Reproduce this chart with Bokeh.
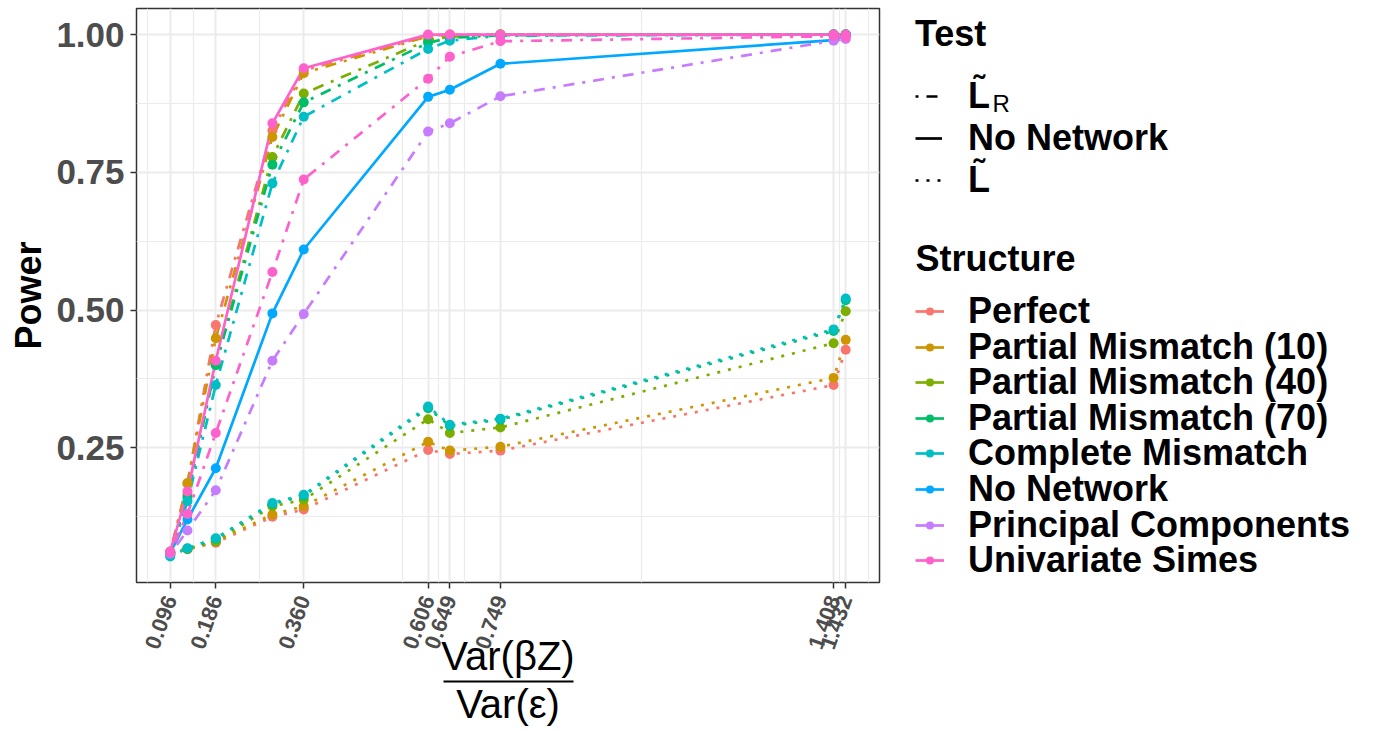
import math
from bokeh.plotting import figure
from bokeh.layouts import row
from bokeh.models import (Range1d, FixedTicker, NumeralTickFormatter, Legend, LegendItem,
                          Label, LinearAxis)
from bokeh.embed import file_html
from bokeh.resources import INLINE

# ---------------- data ----------------
x_values = [0.096, 0.130, 0.186, 0.298, 0.360, 0.606, 0.649, 0.749, 1.408, 1.432]
x_tick_values = [0.096, 0.186, 0.360, 0.606, 0.649, 0.749, 1.408, 1.432]
x_minor_values = [0.051, 0.141, 0.273, 0.5545, 0.6275, 0.6775, 1.0285, 1.420, 1.477]
y_tick_values = [0.25, 0.50, 0.75, 1.00]
y_minor_values = [0.125, 0.375, 0.625, 0.875]

structures = ["Perfect", "Partial Mismatch (10)", "Partial Mismatch (40)",
              "Partial Mismatch (70)", "Complete Mismatch", "No Network",
              "Principal Components", "Univariate Simes"]
structure_colors = ["#F8766D", "#CD9600", "#7CAE00", "#00BE67", "#00BFC4",
                    "#00A9FF", "#C77CFF", "#FF61CC"]
tests = ["L\u0303", "No Network", "L\u0303"]      # L-tilde_R, No Network, L-tilde
test_keys = ["LR", "NN", "L"]
test_dash = {"LR": "3 8 11 8", "NN": "solid", "L": "3 8"}

# Test L~_R (dot-dash)
perfect_LR = [0.060, 0.185, 0.473, 0.826, 0.935, 0.998, 1.000, 1.000, 1.000, 1.000]
pm10_LR = [0.062, 0.186, 0.449, 0.814, 0.930, 0.997, 0.999, 1.000, 1.000, 1.000]
pm40_LR = [0.058, 0.165, 0.405, 0.778, 0.893, 0.990, 0.996, 1.000, 1.000, 1.000]
pm70_LR = [0.058, 0.160, 0.400, 0.764, 0.877, 0.985, 0.994, 0.999, 1.000, 1.000]
complete_LR = [0.055, 0.153, 0.364, 0.730, 0.851, 0.974, 0.989, 0.998, 1.000, 1.000]
pc_LR = [0.058, 0.100, 0.173, 0.408, 0.493, 0.824, 0.839, 0.888, 0.989, 0.992]
simes_LR = [0.060, 0.130, 0.277, 0.569, 0.737, 0.920, 0.960, 0.988, 0.997, 0.995]
# Test No Network (solid)
nonet_NN = [0.060, 0.120, 0.213, 0.494, 0.610, 0.887, 0.900, 0.947, 0.990, 0.999]
simes_NN = [0.062, 0.171, 0.408, 0.839, 0.939, 1.000, 1.000, 1.000, 1.000, 1.000]
# Test L~ (dotted)
perfect_L = [0.058, 0.066, 0.078, 0.125, 0.138, 0.246, 0.239, 0.245, 0.364, 0.428]
pm10_L = [0.060, 0.066, 0.080, 0.129, 0.144, 0.261, 0.245, 0.252, 0.377, 0.446]
pm40_L = [0.060, 0.067, 0.080, 0.144, 0.156, 0.302, 0.277, 0.287, 0.440, 0.498]
pm70_L = [0.055, 0.067, 0.085, 0.148, 0.163, 0.322, 0.290, 0.301, 0.462, 0.518]
complete_L = [0.053, 0.068, 0.086, 0.150, 0.165, 0.325, 0.292, 0.303, 0.465, 0.521]

series = [
    ("Perfect", "LR", perfect_LR), ("Perfect", "L", perfect_L),
    ("Partial Mismatch (10)", "LR", pm10_LR), ("Partial Mismatch (10)", "L", pm10_L),
    ("Partial Mismatch (40)", "LR", pm40_LR), ("Partial Mismatch (40)", "L", pm40_L),
    ("Partial Mismatch (70)", "LR", pm70_LR), ("Partial Mismatch (70)", "L", pm70_L),
    ("Complete Mismatch", "LR", complete_LR), ("Complete Mismatch", "L", complete_L),
    ("No Network", "NN", nonet_NN),
    ("Principal Components", "LR", pc_LR),
    ("Univariate Simes", "LR", simes_LR), ("Univariate Simes", "NN", simes_NN),
]

# ---------------- main figure ----------------
FONT = "Liberation Sans"
NARROW = "Liberation Sans Narrow, Liberation Sans"
W1, H = 900, 732
FRAME_W = 743
TOP, BOTTOM = 8, 150
all_y = [v for _, _, vals in series for v in vals]
ypad = 0.05 * (max(all_y) - min(all_y))
xpad = 0.05 * (max(x_values) - min(x_values))
x0, x1 = min(x_values) - xpad, max(x_values) + xpad

p = figure(width=W1, height=H, output_backend="svg", toolbar_location=None,
           x_range=Range1d(x0, x1),
           y_range=Range1d(min(all_y) - ypad, max(all_y) + ypad),
           min_border_left=136, min_border_right=W1 - 136 - FRAME_W, min_border_top=TOP,
           min_border_bottom=BOTTOM)
p.background_fill_color = "white"
p.border_fill_color = "white"
p.outline_line_color = "#333333"
p.outline_line_width = 1.5

p.xaxis.ticker = FixedTicker(ticks=x_tick_values, minor_ticks=x_minor_values)
p.yaxis.ticker = FixedTicker(ticks=y_tick_values, minor_ticks=y_minor_values)
p.xaxis.formatter = NumeralTickFormatter(format="0.000")
p.yaxis.formatter = NumeralTickFormatter(format="0.00")

for ax in (p.xaxis[0], p.yaxis[0]):
    ax.axis_line_color = None
    ax.major_tick_line_color = "#333333"
    ax.major_tick_line_width = 1.5
    ax.major_tick_in = 0
    ax.major_tick_out = 6
    ax.minor_tick_line_color = None
    ax.major_label_text_font = FONT
    ax.major_label_text_font_style = "bold"
    ax.major_label_text_color = "#4D4D4D"

p.xaxis.major_label_text_font_size = "22px"
p.xaxis.major_label_orientation = math.radians(70)
p.xaxis.major_label_standoff = 8
# numerator of the x title
p.xaxis.axis_label = "Var(\u03b2Z)"
p.xaxis.axis_label_text_font = NARROW
p.xaxis.axis_label_text_font_size = "40px"
p.xaxis.axis_label_text_font_style = "normal"
p.xaxis.axis_label_text_color = "black"
p.xaxis.axis_label_standoff = -22

p.yaxis.major_label_text_font_size = "35px"
p.yaxis.major_label_standoff = 6
p.yaxis.axis_label = "Power"
p.yaxis.axis_label_text_font = FONT
p.yaxis.axis_label_text_font_size = "36px"
p.yaxis.axis_label_text_font_style = "bold"
p.yaxis.axis_label_text_color = "black"
p.yaxis.axis_label_standoff = 4

# fraction bar + denominator: an extra bounded axis below the main one
px_per_unit = FRAME_W / (x1 - x0)
xc = (x0 + x1) / 2
bar_half = 65 / px_per_unit
frac_axis = LinearAxis(ticker=FixedTicker(ticks=[]), bounds=(xc - bar_half, xc + bar_half),
                       axis_line_color="black", axis_line_width=2,
                       major_tick_line_color=None, minor_tick_line_color=None,
                       major_tick_out=0, major_tick_in=0, major_label_standoff=0,
                       major_label_text_font_size="0px",
                       axis_label="Var(\u03b5)", axis_label_text_font=NARROW,
                       axis_label_text_font_size="40px", axis_label_text_font_style="normal",
                       axis_label_text_color="black", axis_label_standoff=0)
p.add_layout(frac_axis, "below")

for g in (p.xgrid[0], p.ygrid[0]):
    g.grid_line_color = "#EBEBEB"
    g.grid_line_width = 2
    g.minor_grid_line_color = "#EBEBEB"
    g.minor_grid_line_width = 1.2

color_of = dict(zip(structures, structure_colors))

# lines first, then points (as ggplot layers)
for s, t, vals in series:
    p.line(x_values, vals, line_color=color_of[s], line_width=2.7,
           line_dash=test_dash[t], line_cap="butt")
for s, t, vals in series:
    p.scatter(x_values, vals, marker="circle", size=10, fill_color=color_of[s],
              line_color=color_of[s], line_width=0)

# ---------------- legend panel ----------------
W2 = 1376 - W1
FRAME_BOTTOM = H - BOTTOM
q = figure(width=W2, height=H, output_backend="svg", toolbar_location=None,
           x_range=Range1d(W1, W1 + W2), y_range=Range1d(FRAME_BOTTOM, TOP),
           x_axis_type=None, y_axis_type=None, min_border_left=0, min_border_right=0,
           min_border_top=TOP, min_border_bottom=BOTTOM)
q.outline_line_color = None
q.background_fill_color = "white"
q.border_fill_color = "white"

legend_common = dict(
    title_text_font=FONT, title_text_font_size="36px", title_text_font_style="bold",
    title_text_color="black", label_text_font=FONT, label_text_font_size="36px",
    label_text_font_style="bold", label_text_color="black", padding=0, margin=0,
    border_line_color=None, background_fill_alpha=0, glyph_height=20,
)
NAN = [float("nan")]

# "Test" legend (line types)
test_items = []
for lab, key in zip(tests, test_keys):
    r = q.line(NAN, NAN, line_color="black", line_width=2.7, line_dash=test_dash[key],
               line_cap="butt")
    test_items.append(LegendItem(label=lab, renderers=[r]))
test_legend = Legend(items=test_items, title="Test", location=(15, 381),
                     glyph_width=27, label_standoff=26, spacing=0, title_standoff=20,
                     **legend_common)
q.add_layout(test_legend)
# subscript R of the first Test label (q's data units are page pixels)
q.add_layout(Label(x=992, y=103, text="R", text_font=FONT, text_font_size="24px",
                   text_baseline="middle", text_align="left", text_color="black"))

# "Structure" legend (colours): title + one row per structure
q.add_layout(Label(x=915, y=258, text="Structure", text_font=FONT, text_font_size="36px",
                   text_font_style="bold", text_baseline="middle", text_align="left",
                   text_color="black"))
ITEM_H = 42          # height bokeh gives one legend row at 36px
first_c, step = 311, 35.6
for i, s in enumerate(structures):
    rl = q.line(NAN, NAN, line_color=color_of[s], line_width=2.7)
    rs = q.scatter(NAN, NAN, marker="circle", size=10, fill_color=color_of[s],
                   line_color=color_of[s], line_width=0)
    c = first_c + i * step
    leg = Legend(items=[LegendItem(label=s, renderers=[rl, rs])],
                 location=(15, FRAME_BOTTOM - (c + ITEM_H / 2)),
                 glyph_width=29, label_standoff=24, spacing=0, **legend_common)
    q.add_layout(leg)

layout = row(p, q, spacing=0)
open("out.html", "w").write(file_html(layout, INLINE))
